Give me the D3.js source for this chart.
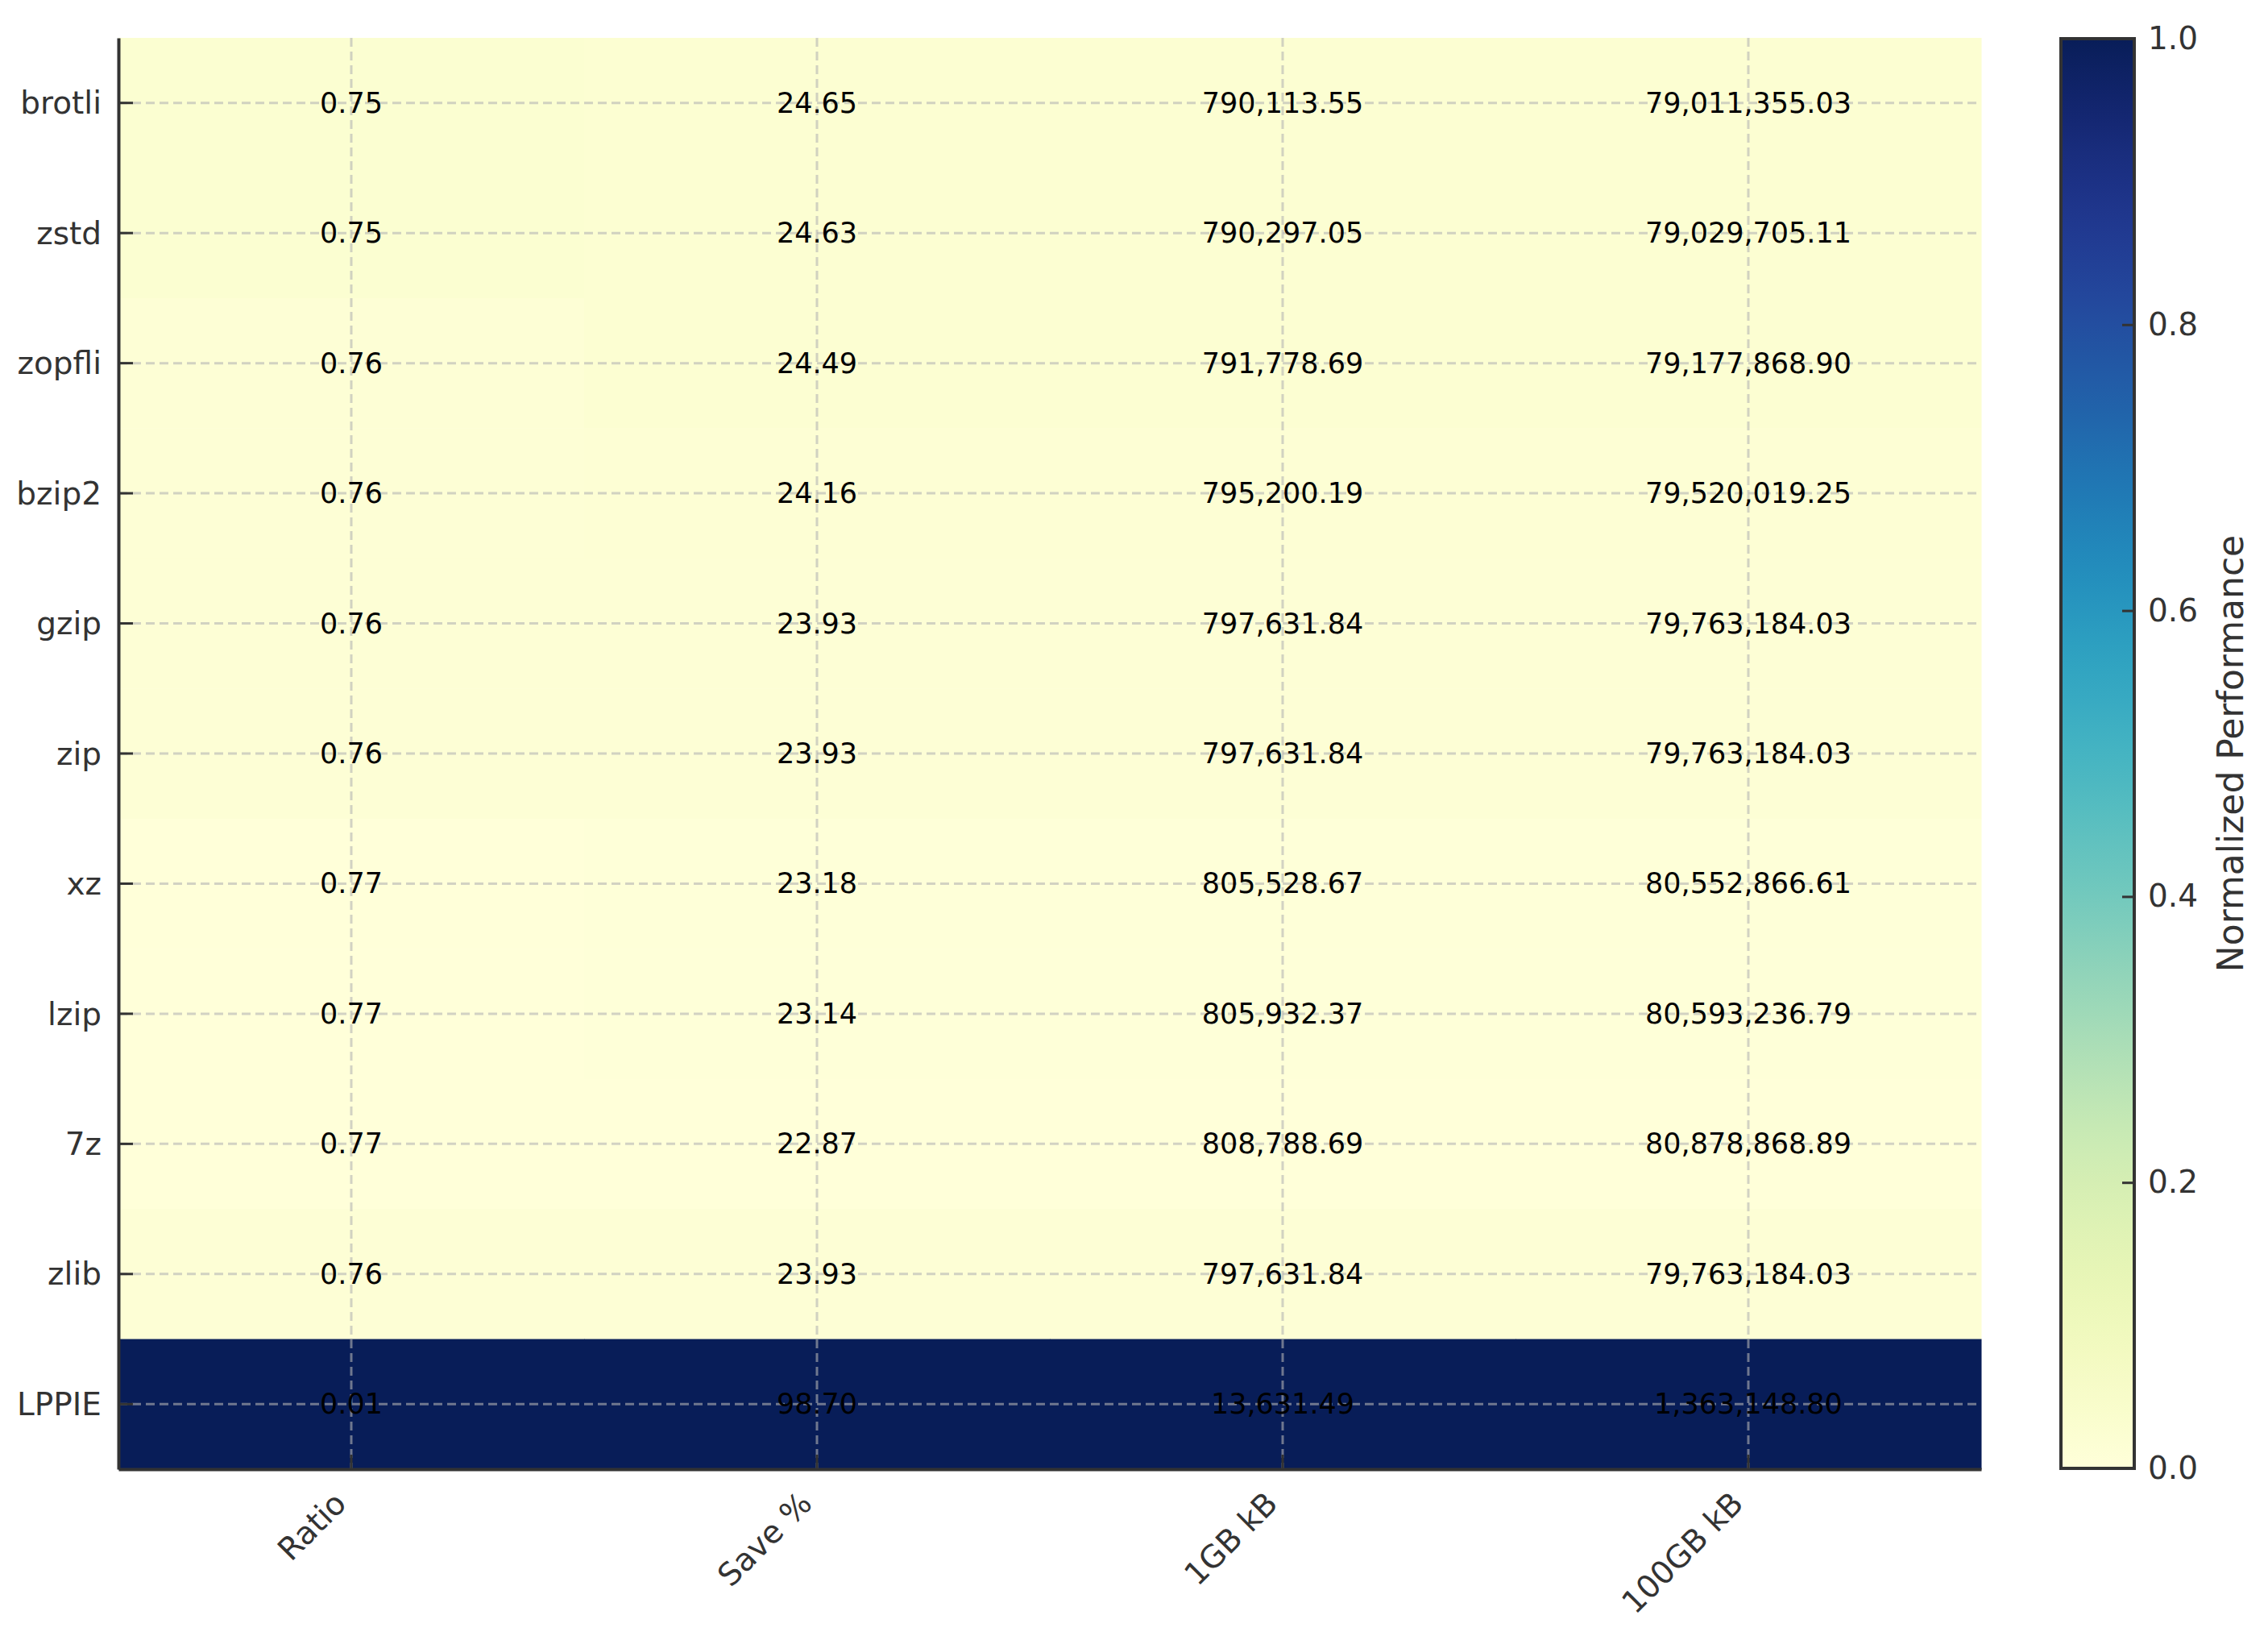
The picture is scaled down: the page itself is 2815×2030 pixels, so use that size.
<!DOCTYPE html>
<html>
<head>
<meta charset="utf-8">
<script src="https://cdn.jsdelivr.net/npm/d3@7"></script>
<style>
  body { margin: 0; background: #fff; }
  svg { display: block; font-family: "DejaVu Sans", sans-serif; }
</style>
</head>
<body>
<svg id="chart" width="2815" height="2030"></svg>
<script>
// rows and columns of the table
const algorithms = ["brotli", "zstd", "zopfli", "bzip2", "gzip", "zip", "xz", "lzip", "7z", "zlib", "LPPIE"];
const metrics = ["Ratio", "Save %", "1GB kB", "100GB kB"];

// values per column (same order as algorithms)
const ratio = [0.75, 0.75, 0.76, 0.76, 0.76, 0.76, 0.77, 0.77, 0.77, 0.76, 0.01];
const savePct = [24.65, 24.63, 24.49, 24.16, 23.93, 23.93, 23.18, 23.14, 22.87, 23.93, 98.70];
const size1GB = [790113.55, 790297.05, 791778.69, 795200.19, 797631.84, 797631.84, 805528.67, 805932.37, 808788.69, 797631.84, 13631.49];
const size100GB = [79011355.03, 79029705.11, 79177868.90, 79520019.25, 79763184.03, 79763184.03, 80552866.61, 80593236.79, 80878868.89, 79763184.03, 1363148.80];
// which columns are better when higher
const higherIsBetter = [false, true, false, false];

const colorTicks = [0.0, 0.2, 0.4, 0.6, 0.8, 1.0];

const columns = [ratio, savePct, size1GB, size100GB];

// normalise every column to 0..1 where 1 is the best
function normalize(vals, higher) {
  const lo = d3.min(vals), hi = d3.max(vals);
  return vals.map(v => higher ? (v - lo) / (hi - lo) : (hi - v) / (hi - lo));
}
const normCols = columns.map((c, i) => normalize(c, higherIsBetter[i]));

const cells = [];
algorithms.forEach((a, r) => {
  metrics.forEach((m, c) => {
    cells.push({ algo: a, metric: m, value: columns[c][r], norm: normCols[c][r] });
  });
});

const svg = d3.select("#chart");
const plotLeft = 147, plotRight = 2459, plotTop = 47, plotBottom = 1823;

const x = d3.scaleBand().domain(metrics).range([plotLeft, plotRight]);
const y = d3.scaleBand().domain(algorithms).range([plotTop, plotBottom]);
const color = d3.scaleSequential(d3.interpolateYlGnBu).domain([0, 1]);
const fmt = d3.format(",.2f");

// heatmap cells
svg.append("g").selectAll("rect")
  .data(cells)
  .join("rect")
  .attr("x", d => x(d.metric))
  .attr("y", d => y(d.algo))
  .attr("width", x.bandwidth() + 0.5)
  .attr("height", y.bandwidth() + 0.5)
  .attr("fill", d => color(d.norm));

// dashed grid on top of the cells
const grid = svg.append("g")
  .attr("stroke", "#b4b4b4")
  .attr("stroke-opacity", 0.6)
  .attr("stroke-width", 3)
  .attr("stroke-dasharray", "11,6");
grid.selectAll(".gy").data(algorithms).join("line")
  .attr("x1", plotLeft).attr("x2", plotRight)
  .attr("y1", d => y(d) + y.bandwidth() / 2)
  .attr("y2", d => y(d) + y.bandwidth() / 2);
grid.selectAll(".gx").data(metrics).join("line")
  .attr("y1", plotTop).attr("y2", plotBottom)
  .attr("x1", d => x(d) + x.bandwidth() / 2)
  .attr("x2", d => x(d) + x.bandwidth() / 2);

// cell labels
svg.append("g").selectAll("text")
  .data(cells)
  .join("text")
  .attr("x", d => x(d.metric) + x.bandwidth() / 2)
  .attr("y", d => y(d.algo) + y.bandwidth() / 2)
  .attr("text-anchor", "middle")
  .attr("dominant-baseline", "central")
  .attr("font-size", 35)
  .attr("fill", "#000")
  .text(d => fmt(d.value));

// axes with inward ticks
const yAxis = svg.append("g")
  .attr("transform", `translate(${plotLeft},0)`)
  .call(d3.axisLeft(y).tickSizeInner(-18).tickSizeOuter(0).tickPadding(21));
const xAxis = svg.append("g")
  .attr("transform", `translate(0,${plotBottom})`)
  .call(d3.axisBottom(x).tickSizeInner(-18).tickSizeOuter(0).tickPadding(0));

[yAxis, xAxis].forEach(ax => {
  ax.select(".domain").attr("stroke", "#333").attr("stroke-width", 4);
  ax.selectAll(".tick line").attr("stroke", "#333").attr("stroke-width", 3);
  ax.selectAll(".tick text").attr("font-size", 39).attr("fill", "#333")
    .attr("font-family", "DejaVu Sans");
});
yAxis.selectAll(".tick text").attr("dy", "0.35em");
xAxis.selectAll(".tick text")
  .attr("text-anchor", "end")
  .attr("dy", 0)
  .attr("transform", "translate(-4,45) rotate(-45)");

// colorbar
const cbX = 2558, cbW = 91, cbTop = 48, cbBottom = 1822;
const cy = d3.scaleLinear().domain([0, 1]).range([cbBottom, cbTop]);

const grad = svg.append("defs").append("linearGradient")
  .attr("id", "cbgrad")
  .attr("x1", 0).attr("y1", 1).attr("x2", 0).attr("y2", 0);
grad.selectAll("stop")
  .data(d3.range(0, 1.0001, 0.02))
  .join("stop")
  .attr("offset", d => d)
  .attr("stop-color", d => color(d));

svg.append("rect")
  .attr("x", cbX).attr("y", cbTop)
  .attr("width", cbW).attr("height", cbBottom - cbTop)
  .attr("fill", "url(#cbgrad)");

const cAxis = svg.append("g")
  .attr("transform", `translate(${cbX + cbW},0)`)
  .call(d3.axisRight(cy).tickValues(colorTicks).tickFormat(d3.format(".1f"))
    .tickSizeInner(-15).tickSizeOuter(0).tickPadding(17));
cAxis.select(".domain").remove();
cAxis.selectAll(".tick line").attr("stroke", "#333").attr("stroke-width", 3);
cAxis.selectAll(".tick text").attr("font-size", 39).attr("fill", "#333")
  .attr("font-family", "DejaVu Sans");

svg.append("rect")
  .attr("x", cbX).attr("y", cbTop)
  .attr("width", cbW).attr("height", cbBottom - cbTop)
  .attr("fill", "none")
  .attr("stroke", "#333")
  .attr("stroke-width", 4);

svg.append("text")
  .attr("transform", `translate(2768,${(cbTop + cbBottom) / 2}) rotate(-90)`)
  .attr("text-anchor", "middle")
  .attr("dominant-baseline", "central")
  .attr("font-size", 44)
  .attr("fill", "#333")
  .text("Normalized Performance");
</script>
</body>
</html>
